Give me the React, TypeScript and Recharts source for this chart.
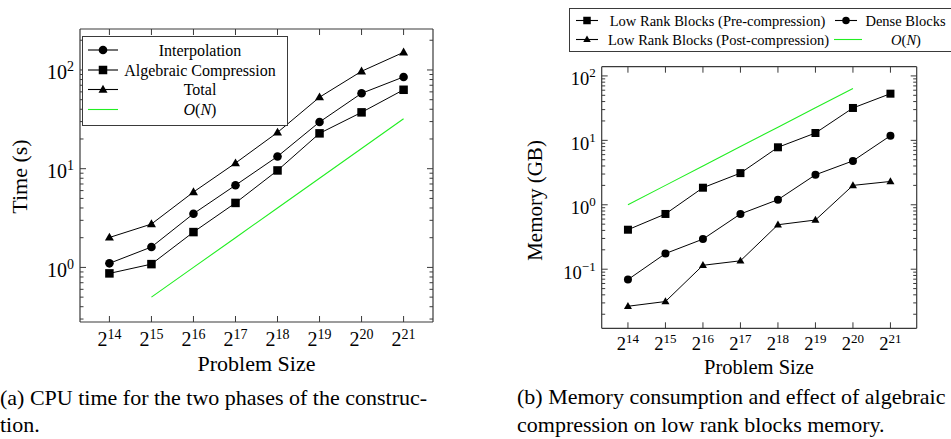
import React from "react";
import { LineChart, Line, XAxis, YAxis } from "recharts";

// problem size exponents: N = 2^k
const exponents = [14, 15, 16, 17, 18, 19, 20, 21];

// (a) construction CPU time in seconds
const interpolationTime = [1.1, 1.61, 3.5, 6.8, 13.3, 29.7, 58, 85];
const compressionTime = [0.87, 1.08, 2.28, 4.5, 9.6, 22.8, 37.2, 63];
const totalTime = [2.01, 2.75, 5.8, 11.4, 23.3, 53, 97, 151];
const linearTime = [null, 0.5, 1, 2, 4, 8, 16, 32];

// (b) memory in GB
const lowRankPreMem = [0.41, 0.72, 1.84, 3.1, 7.8, 13, 31.8, 53];
const denseMem = [0.069, 0.175, 0.293, 0.72, 1.2, 2.92, 4.8, 11.8];
const lowRankPostMem = [0.0266, 0.0315, 0.115, 0.135, 0.49, 0.58, 2.0, 2.3];
const linearMem = [1, 2, 4, 8, 16, 32, 64, null];

// log axis ticks (decades get a label, the rest are minor marks)
const timeTicks = [
  0.3, 0.4, 0.5, 0.6, 0.7, 0.8, 0.9, 1, 2, 3, 4, 5, 6, 7, 8, 9, 10, 20, 30, 40,
  50, 60, 70, 80, 90, 100, 200,
];
const memTicks = [
  0.02, 0.03, 0.04, 0.05, 0.06, 0.07, 0.08, 0.09, 0.1, 0.2, 0.3, 0.4, 0.5, 0.6,
  0.7, 0.8, 0.9, 1, 2, 3, 4, 5, 6, 7, 8, 9, 10, 20, 30, 40, 50, 60, 70, 80, 90,
  100,
];

const timeDomain = [0.28, 260];
const memDomain = [0.0121, 139];
const xDomain = [13.3, 21.7];

const FRAME = "#3a3a3a";
const GREEN = "#22ee22";
const FONT = "'Liberation Serif', 'Times New Roman', serif";

const timeRows = exponents.map((k, i) => ({
  k,
  interp: interpolationTime[i],
  comp: compressionTime[i],
  total: totalTime[i],
  lin: linearTime[i],
}));

const memRows = exponents.map((k, i) => ({
  k,
  pre: lowRankPreMem[i],
  dense: denseMem[i],
  post: lowRankPostMem[i],
  lin: linearMem[i],
}));

function isDecade(v: number) {
  const e = Math.log10(v);
  return Math.abs(e - Math.round(e)) < 1e-6;
}

function LogTick(props: any) {
  const { x, y, payload, side, fontSize, supSize } = props;
  const v = payload.value;
  const major = isDecade(v);
  const len = major ? 6 : 3.5;
  const dir = side === "left" ? 1 : -1;
  const exp = Math.round(Math.log10(v));
  return (
    <g>
      <line x1={x} x2={x + dir * len} y1={y} y2={y} stroke={FRAME} strokeWidth={1} />
      {major && side === "left" && (
        <text x={x - 6} y={y + 9.5} textAnchor="end" fontSize={fontSize} fill="#000">
          10
          <tspan dy={-8} fontSize={supSize}>
            {exp < 0 ? `\u2212${-exp}` : exp}
          </tspan>
        </text>
      )}
    </g>
  );
}

function PowTick(props: any) {
  const { x, y, payload, side, fontSize, supSize, drop } = props;
  const dir = side === "bottom" ? -1 : 1;
  return (
    <g>
      <line x1={x} x2={x} y1={y} y2={y + dir * 6} stroke={FRAME} strokeWidth={1} />
      {side === "bottom" && (
        <text x={x} y={y + drop} textAnchor="middle" fontSize={fontSize} fill="#000">
          2
          <tspan dy={-7.5} fontSize={supSize}>
            {payload.value}
          </tspan>
        </text>
      )}
    </g>
  );
}

function markSquare(s: number) {
  return (p: any) =>
    p.cy == null ? (
      <g key={`s${p.index}`} />
    ) : (
      <rect key={`s${p.index}`} x={p.cx - s / 2} y={p.cy - s / 2} width={s} height={s} fill="#000" />
    );
}

function markCircle(r: number) {
  return (p: any) =>
    p.cy == null ? (
      <g key={`c${p.index}`} />
    ) : (
      <circle key={`c${p.index}`} cx={p.cx} cy={p.cy} r={r} fill="#000" />
    );
}

function triPoints(cx: number, cy: number, w: number) {
  const h = w * 0.87;
  return `${cx},${cy - h * 0.6} ${cx - w / 2},${cy + h * 0.4} ${cx + w / 2},${cy + h * 0.4}`;
}

function markTriangle(w: number) {
  return (p: any) =>
    p.cy == null ? (
      <g key={`t${p.index}`} />
    ) : (
      <polygon key={`t${p.index}`} points={triPoints(p.cx, p.cy, w)} fill="#000" />
    );
}

// four-sided frame: labelled bottom/left axes plus mirrored top/right ones.
// Axes need a non-zero thickness to render, so they get 1px each.
function axes(ticks: number[], domain: number[], tickFont: number, supFont: number, drop: number) {
  const line = { stroke: FRAME, strokeWidth: 1.2 };
  return [
    <XAxis
      key="xb"
      xAxisId={0}
      dataKey="k"
      type="number"
      domain={xDomain}
      ticks={exponents}
      interval={0}
      allowDataOverflow
      height={1}
      tickSize={0}
      tickMargin={0}
      tickLine={false}
      axisLine={line}
      tick={(p: any) => (
        <PowTick {...p} side="bottom" fontSize={tickFont} supSize={supFont} drop={drop} />
      )}
    />,
    <XAxis
      key="xt"
      xAxisId="top"
      orientation="top"
      dataKey="k"
      type="number"
      domain={xDomain}
      ticks={exponents}
      interval={0}
      allowDataOverflow
      height={1}
      tickSize={0}
      tickMargin={0}
      tickLine={false}
      axisLine={line}
      tick={(p: any) => <PowTick {...p} side="top" />}
    />,
    <YAxis
      key="yl"
      yAxisId={0}
      type="number"
      scale="log"
      domain={domain}
      ticks={ticks}
      interval={0}
      allowDataOverflow
      width={1}
      tickSize={0}
      tickMargin={0}
      tickLine={false}
      axisLine={line}
      tick={(p: any) => <LogTick {...p} side="left" fontSize={tickFont} supSize={supFont} />}
    />,
    <YAxis
      key="yr"
      yAxisId="right"
      orientation="right"
      type="number"
      scale="log"
      domain={domain}
      ticks={ticks}
      interval={0}
      allowDataOverflow
      width={1}
      tickSize={0}
      tickMargin={0}
      tickLine={false}
      axisLine={line}
      tick={(p: any) => <LogTick {...p} side="right" />}
    />,
  ];
}

function TimeChart() {
  return (
    <LineChart
      width={480}
      height={380}
      data={timeRows}
      margin={{ top: 28, left: 79, right: 46, bottom: 57 }}
    >
      {axes(timeTicks, timeDomain, 20, 14, 24)}
      <Line dataKey="lin" stroke={GREEN} strokeWidth={1.1} dot={false} isAnimationActive={false} />
      <Line dataKey="comp" stroke="#000" strokeWidth={1} dot={markSquare(8.5)} isAnimationActive={false} />
      <Line dataKey="interp" stroke="#000" strokeWidth={1} dot={markCircle(4.3)} isAnimationActive={false} />
      <Line dataKey="total" stroke="#000" strokeWidth={1} dot={markTriangle(9)} isAnimationActive={false} />
    </LineChart>
  );
}

function MemoryChart() {
  return (
    <LineChart
      width={471}
      height={380}
      data={memRows}
      margin={{ top: 65.7, left: 120.7, right: 33.3, bottom: 50.7 }}
    >
      {axes(memTicks, memDomain, 18.5, 13, 22)}
      <Line dataKey="lin" stroke={GREEN} strokeWidth={1.1} dot={false} isAnimationActive={false} />
      <Line dataKey="pre" stroke="#000" strokeWidth={1} dot={markSquare(8)} isAnimationActive={false} />
      <Line dataKey="dense" stroke="#000" strokeWidth={1} dot={markCircle(4)} isAnimationActive={false} />
      <Line dataKey="post" stroke="#000" strokeWidth={1} dot={markTriangle(8)} isAnimationActive={false} />
    </LineChart>
  );
}

type Mark = "square" | "circle" | "triangle" | "none";

function LegendIcon({ x0, x1, y, mark, size }: { x0: number; x1: number; y: number; mark: Mark; size: number }) {
  const cx = (x0 + x1) / 2;
  return (
    <g>
      <line x1={x0} x2={x1} y1={y} y2={y} stroke={mark === "none" ? GREEN : "#000"} strokeWidth={1.1} />
      {mark === "square" && <rect x={cx - size / 2} y={y - size / 2} width={size} height={size} fill="#000" />}
      {mark === "circle" && <circle cx={cx} cy={y} r={size / 2} fill="#000" />}
      {mark === "triangle" && <polygon points={triPoints(cx, y, size)} fill="#000" />}
    </g>
  );
}

function ON({ x, y, size }: { x: number; y: number; size: number }) {
  return (
    <text x={x} y={y} textAnchor="middle" fontSize={size}>
      <tspan fontStyle="italic">O</tspan>(<tspan fontStyle="italic">N</tspan>)
    </text>
  );
}

const timeLegend: { label: string; mark: Mark }[] = [
  { label: "Interpolation", mark: "circle" },
  { label: "Algebraic Compression", mark: "square" },
  { label: "Total", mark: "triangle" },
  { label: "O(N)", mark: "none" },
];

function Overlay() {
  const rowY = [50, 70, 89.5, 109.5];
  return (
    <svg
      width={951}
      height={439}
      style={{ position: "absolute", left: 0, top: 0, pointerEvents: "none" }}
      fontFamily={FONT}
    >
      {/* legend (a) */}
      <rect x={82.5} y={36.5} width={205} height={89} fill="#fff" stroke={FRAME} strokeWidth={1} />
      {timeLegend.map((e, i) => (
        <g key={e.label}>
          <LegendIcon x0={88} x1={118} y={rowY[i]} mark={e.mark} size={e.mark === "circle" ? 8.6 : e.mark === "square" ? 8.5 : 9} />
          {e.mark === "none" ? (
            <ON x={200} y={rowY[i] + 5.5} size={16} />
          ) : (
            <text x={200} y={rowY[i] + 5.5} textAnchor="middle" fontSize={16}>
              {e.label}
            </text>
          )}
        </g>
      ))}

      {/* legend (b) */}
      <rect x={569.5} y={8.5} width={400} height={43} fill="#fff" stroke={FRAME} strokeWidth={1} />
      <LegendIcon x0={576} x1={598} y={20.5} mark="square" size={7.5} />
      <text x={717.5} y={25.5} textAnchor="middle" fontSize={14.5}>
        Low Rank Blocks (Pre-compression)
      </text>
      <LegendIcon x0={835} x1={857} y={20.5} mark="circle" size={7.5} />
      <text x={905.5} y={25.5} textAnchor="middle" fontSize={14.5}>
        Dense Blocks
      </text>
      <LegendIcon x0={576} x1={598} y={39.5} mark="triangle" size={7.5} />
      <text x={718.5} y={44.5} textAnchor="middle" fontSize={14.5}>
        Low Rank Blocks (Post-compression)
      </text>
      <LegendIcon x0={834} x1={862} y={39.5} mark="none" size={0} />
      <ON x={906} y={44.5} size={14.5} />

      {/* axis titles */}
      <text transform="translate(26.5,176.5) rotate(-90)" textAnchor="middle" fontSize={22}>
        Time (s)
      </text>
      <text x={256.5} y={371} textAnchor="middle" fontSize={22}>
        Problem Size
      </text>
      <text transform="translate(541.5,200.5) rotate(-90)" textAnchor="middle" fontSize={21}>
        Memory (GB)
      </text>
      <text x={759} y={374} textAnchor="middle" fontSize={20.5}>
        Problem Size
      </text>

      {/* captions */}
      <text x={0} y={405} fontSize={22}>
        (a) CPU time for the two phases of the construc-
      </text>
      <text x={0} y={432} fontSize={22}>
        tion.
      </text>
      <text x={517} y={404} fontSize={22}>
        (b) Memory consumption and effect of algebraic
      </text>
      <text x={517} y={432} fontSize={22}>
        compression on low rank blocks memory.
      </text>
    </svg>
  );
}

export default function App() {
  return (
    <div
      style={{
        position: "absolute",
        left: 0,
        top: 0,
        width: 951,
        height: 439,
        overflow: "hidden",
        background: "#fff",
        fontFamily: FONT,
      }}
    >
      <div style={{ position: "absolute", left: 0, top: 0 }}>
        <TimeChart />
      </div>
      <div style={{ position: "absolute", left: 480, top: 0 }}>
        <MemoryChart />
      </div>
      <Overlay />
    </div>
  );
}
